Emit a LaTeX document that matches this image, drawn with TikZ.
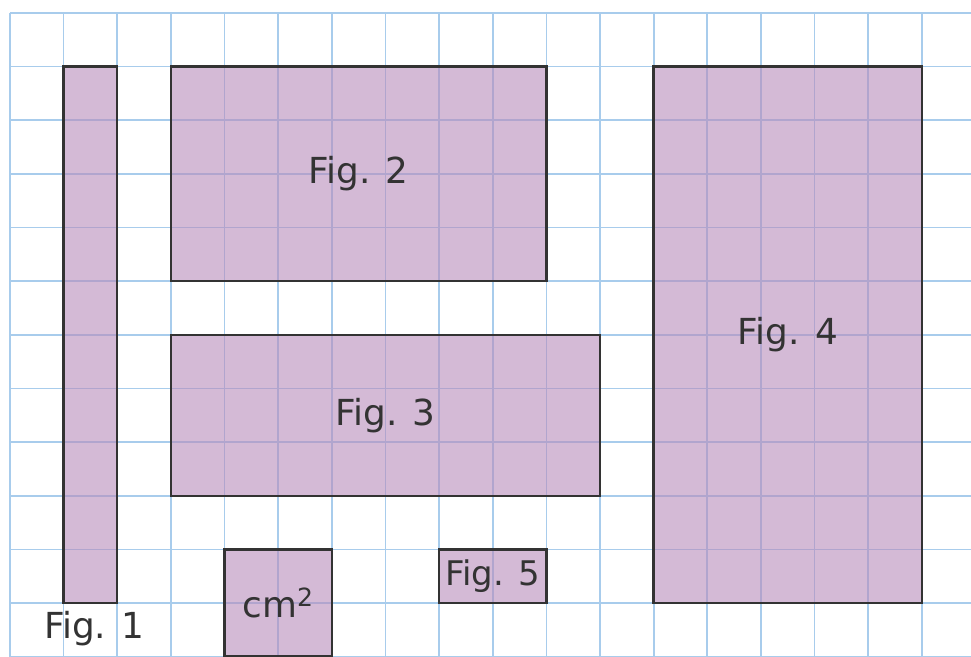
\documentclass[tikz,border=0pt]{standalone}
\usepackage{xcolor}
\usepackage{fontspec}
\setmainfont{DejaVu Sans}
\usetikzlibrary{positioning}
\definecolor{gridblue}{HTML}{A8CCEC}
\definecolor{mauve}{HTML}{B78CBB}
\definecolor{ink}{HTML}{333333}

\begin{document}
\begin{tikzpicture}[
      gridline/.style={draw=gridblue, line width=0.9pt},
      fig/.style={draw=ink, line width=1.3pt, fill=mauve, fill opacity=0.6,
                  draw opacity=1, text opacity=1, text=ink, inner sep=0pt,
                  font=\fontsize{19}{22}\selectfont},
      lbl/.style={text=ink, font=\fontsize{19}{22}\selectfont}]
    \useasboundingbox (-0.186,0.242) rectangle (17.916,-12.006);
    \draw[gridline] (0,0) grid (17.95,-12.05);
    \node[fig, minimum width=1cm, minimum height=10cm] (fig1) at (1.5,-6)  {};
    \node[fig, minimum width=7cm, minimum height=4cm]  (fig2) at (6.5,-3)  {Fig. 2};
    \node[fig, minimum width=8cm, minimum height=3cm]  (fig3) at (7,-7.5)  {Fig. 3};
    \node[fig, minimum width=5cm, minimum height=10cm] (fig4) at (14.5,-6) {Fig. 4};
    \node[fig, minimum width=2cm, minimum height=2cm]  (unit) at (5,-11)   {cm\textsuperscript{2}};
    \node[fig, minimum width=2cm, minimum height=1cm, font=\fontsize{18}{21}\selectfont]
                                                       (fig5) at (9,-10.5) {Fig. 5};
    \node[lbl, below=0pt of fig1, xshift=2pt] (fig1lab) {Fig. 1};
  \end{tikzpicture}
\end{document}
